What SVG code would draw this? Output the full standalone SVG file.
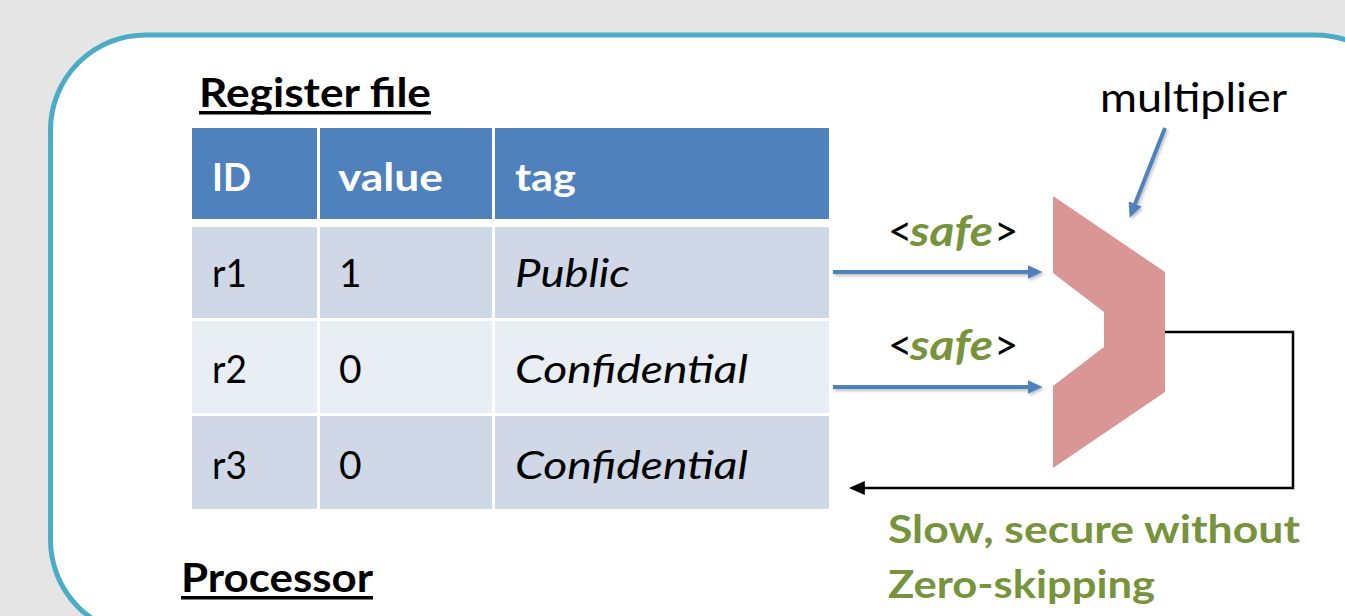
<svg xmlns="http://www.w3.org/2000/svg" width="1345" height="616" viewBox="0 0 1345 616">
<style>
  text { font-family: Lato, "Open Sans", "Liberation Sans", sans-serif; }
  .hdr { fill: #4f81bd; }
  .rowA { fill: #d0d8e8; }
  .rowB { fill: #e9edf4; }
  .ht { fill: #ffffff; font-weight: bold; font-size: 39px; }
  .ct { fill: #000000; font-size: 39px; }
  .it { font-style: italic; }
  .title { fill: #000000; font-weight: bold; font-size: 40px; }
  .green { fill: #77933c; font-weight: bold; }
  .blk { fill: #000000; }
  .blue { stroke: #4f81bd; stroke-width: 4; fill: none; }
  .black { stroke: #000000; stroke-width: 2.5; fill: none; }
</style>
<defs>
  <marker id="ab" markerWidth="15" markerHeight="14" refX="7" refY="5" orient="auto" markerUnits="userSpaceOnUse" viewBox="0 0 10 10" preserveAspectRatio="none">
    <path d="M0,0 L10,5 L0,10 z" fill="#4f81bd"/>
  </marker>
  <marker id="ak" markerWidth="16" markerHeight="14" refX="8" refY="5" orient="auto" markerUnits="userSpaceOnUse" viewBox="0 0 10 10" preserveAspectRatio="none">
    <path d="M0,0 L10,5 L0,10 z" fill="#000000"/>
  </marker>
  <filter id="sh" filterUnits="userSpaceOnUse" x="800" y="100" width="400" height="320">
    <feDropShadow dx="1.5" dy="2" stdDeviation="1.5" flood-color="#000" flood-opacity="0.25"/>
  </filter>
</defs>
<rect width="1345" height="616" fill="#e5e5e5"/>
<g id="processor">
  <rect x="50.5" y="35" width="1360" height="600" rx="95" ry="95" fill="#ffffff" stroke="#4bacc6" stroke-width="5"/>
  <text class="title" x="199" y="107" textLength="232" lengthAdjust="spacingAndGlyphs">Register file</text>
  <rect x="199" y="111" width="232" height="3.5" fill="#000"/>
  <text class="title" x="181" y="592" textLength="192" lengthAdjust="spacingAndGlyphs">Processor</text>
  <rect x="181" y="596" width="192" height="3.5" fill="#000"/>
</g>
<g id="register-table">
  <rect class="hdr" x="192" y="128" width="125" height="91"/>
  <rect class="hdr" x="320" y="128" width="172" height="91"/>
  <rect class="hdr" x="495" y="128" width="334" height="91"/>
  <rect class="rowA" x="192" y="227" width="125" height="91"/>
  <rect class="rowA" x="320" y="227" width="172" height="91"/>
  <rect class="rowA" x="495" y="227" width="334" height="91"/>
  <rect class="rowB" x="192" y="321" width="125" height="92"/>
  <rect class="rowB" x="320" y="321" width="172" height="92"/>
  <rect class="rowB" x="495" y="321" width="334" height="92"/>
  <rect class="rowA" x="192" y="416" width="125" height="93"/>
  <rect class="rowA" x="320" y="416" width="172" height="93"/>
  <rect class="rowA" x="495" y="416" width="334" height="93"/>
  <text class="ht" x="212" y="191" textLength="39" lengthAdjust="spacingAndGlyphs">ID</text>
  <text class="ht" x="338" y="191" textLength="105" lengthAdjust="spacingAndGlyphs">value</text>
  <text class="ht" x="515" y="191" textLength="61" lengthAdjust="spacingAndGlyphs">tag</text>
  <text class="ct" x="212" y="287" textLength="35" lengthAdjust="spacingAndGlyphs">r1</text>
  <text class="ct" x="339" y="287">1</text>
  <text class="ct it" x="515" y="287" textLength="115" lengthAdjust="spacingAndGlyphs">Public</text>
  <text class="ct" x="212" y="383" textLength="35" lengthAdjust="spacingAndGlyphs">r2</text>
  <text class="ct" x="339" y="383">0</text>
  <text class="ct it" x="515" y="383" textLength="233" lengthAdjust="spacingAndGlyphs">Confidential</text>
  <text class="ct" x="212" y="479" textLength="35" lengthAdjust="spacingAndGlyphs">r3</text>
  <text class="ct" x="339" y="479">0</text>
  <text class="ct it" x="515" y="479" textLength="233" lengthAdjust="spacingAndGlyphs">Confidential</text>
</g>
<g id="multiplier">
  <polygon points="1053,196 1165,272 1165,392 1053,468 1053,386 1104,347 1104,312 1053,273" fill="#d99694"/>
  <text x="1100" y="112" font-size="40" fill="#000" textLength="187" lengthAdjust="spacingAndGlyphs">multiplier</text>
</g>
<g id="labels">
  <text x="888" y="246" font-size="42"><tspan class="blk">&lt;</tspan><tspan class="green it" x="910" textLength="83" lengthAdjust="spacingAndGlyphs">safe</tspan><tspan class="blk" x="994">&gt;</tspan></text>
  <text x="888" y="360" font-size="42"><tspan class="blk">&lt;</tspan><tspan class="green it" x="910" textLength="83" lengthAdjust="spacingAndGlyphs">safe</tspan><tspan class="blk" x="994">&gt;</tspan></text>
  <text class="green" x="888" y="543" font-size="39" textLength="412" lengthAdjust="spacingAndGlyphs">Slow, secure without</text>
  <text class="green" x="888" y="598" font-size="39" textLength="267" lengthAdjust="spacingAndGlyphs">Zero-skipping</text>
</g>
<g id="connectors">
  <line class="blue" x1="1165" y1="128" x2="1131.3" y2="213.6" marker-end="url(#ab)" filter="url(#sh)"/>
  <line class="blue" x1="833" y1="272" x2="1038" y2="272" marker-end="url(#ab)" filter="url(#sh)"/>
  <line class="blue" x1="833" y1="387" x2="1038" y2="387" marker-end="url(#ab)" filter="url(#sh)"/>
  <polyline class="black" points="1165,332 1293,332 1293,488 852,488" marker-end="url(#ak)"/>
</g>
</svg>
